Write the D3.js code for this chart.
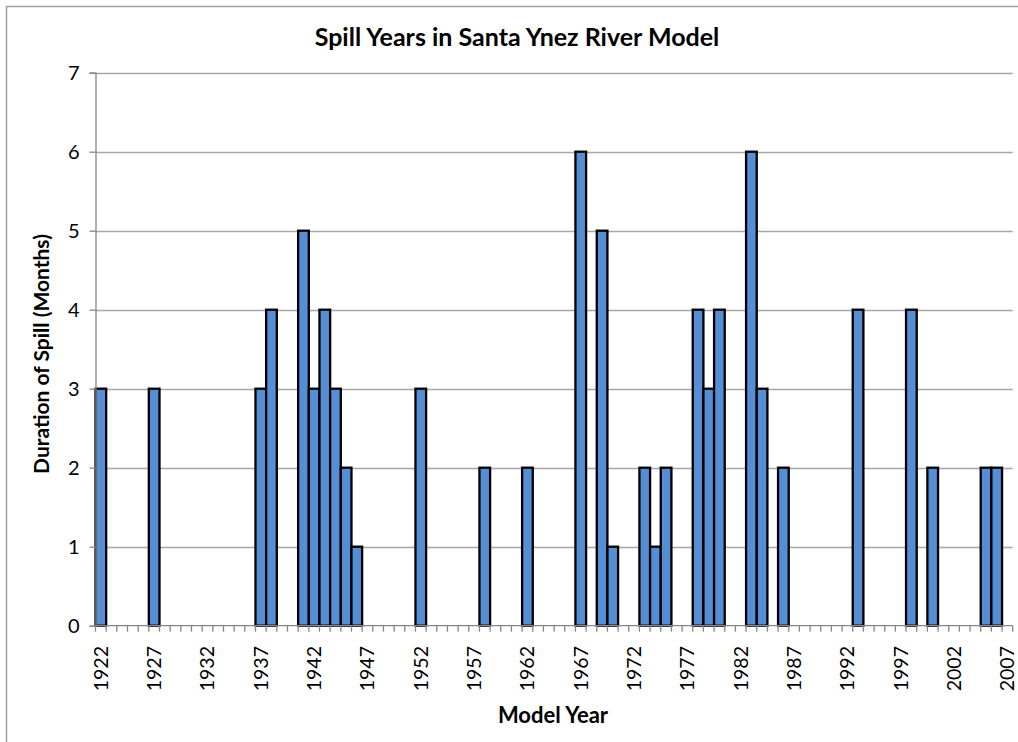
<!DOCTYPE html>
<html>
<head>
<meta charset="utf-8">
<script src="https://cdn.jsdelivr.net/npm/d3@7"></script>
<style>
  body { margin: 0; background: #fff; }
  text { font-family: Lato, "Open Sans", sans-serif; fill: #000; }
</style>
</head>
<body>
<div id="chart"></div>
<script>
// categories on the x axis, one per model year
const years = d3.range(1922, 2008);
// years that spilled and how many months
const spillYears = [1922, 1927, 1937, 1938, 1941, 1942, 1943, 1944, 1945, 1946,
  1952, 1958, 1962, 1967, 1969, 1970, 1973, 1974, 1975,
  1978, 1979, 1980, 1983, 1984, 1986, 1993, 1998, 2000, 2005, 2006];
const spillMonths = [3, 3, 3, 4, 5, 3, 4, 3, 2, 1,
  3, 2, 2, 6, 5, 1, 2, 1, 2,
  4, 3, 4, 6, 3, 2, 4, 4, 2, 2, 2];
const xTickLabels = [1922, 1927, 1932, 1937, 1942, 1947, 1952, 1957, 1962, 1967,
  1972, 1977, 1982, 1987, 1992, 1997, 2002, 2007];
const yTicks = [0, 1, 2, 3, 4, 5, 6, 7];

const data = spillYears.map((y, i) => ({ year: y, value: spillMonths[i] }));

const width = 1018, height = 742;

const svg = d3.select("#chart")
  .append("svg")
  .attr("width", width)
  .attr("height", height);

// chart area border
svg.append("rect")
  .attr("x", 6.5).attr("y", 6.5)
  .attr("width", width + 20).attr("height", height + 20)
  .attr("fill", "none")
  .attr("stroke", "#a0a0a0")
  .attr("stroke-width", 1.5);

const x = d3.scaleBand()
  .domain(years)
  .range([95.5, 1012.7])
  .padding(0);

const y = d3.scaleLinear()
  .domain([0, 7])
  .range([625.7, 72.7]);

// gridlines
svg.append("g")
  .selectAll("line")
  .data(yTicks.slice(1))
  .enter()
  .append("line")
  .attr("x1", 95.5)
  .attr("x2", 1012.7)
  .attr("y1", (d) => Math.round(y(d)) + 0.5)
  .attr("y2", (d) => Math.round(y(d)) + 0.5)
  .attr("stroke", "#a6a6a6")
  .attr("stroke-width", 1.3);

// bars
svg.append("g")
  .selectAll("rect")
  .data(data)
  .enter()
  .append("rect")
  .attr("x", (d) => x(d.year))
  .attr("y", (d) => y(d.value))
  .attr("width", x.bandwidth())
  .attr("height", (d) => y(0) - y(d.value))
  .attr("fill", "#558ed5")
  .attr("stroke", "#000")
  .attr("stroke-width", 2.3);

// y axis
const yAxis = d3.axisLeft(y)
  .tickValues(yTicks)
  .tickSize(6)
  .tickPadding(10)
  .tickFormat(d3.format("d"));

const yAxisGroup = svg.append("g")
  .attr("transform", "translate(95.5,0)")
  .call(yAxis);

yAxisGroup.select(".domain").attr("stroke", "#868686").attr("stroke-width", 1.3);
yAxisGroup.selectAll(".tick line").attr("stroke", "#868686").attr("stroke-width", 1.3);
yAxisGroup.selectAll(".tick text").style("font-size", "20px").attr("fill", "#000");

// x axis: ticks between categories
const xEdge = d3.scaleLinear()
  .domain([0, years.length])
  .range(x.range());

const xAxisGroup = svg.append("g");

xAxisGroup.append("line")
  .attr("x1", 95.5).attr("x2", 1012.7)
  .attr("y1", y(0)).attr("y2", y(0))
  .attr("stroke", "#868686")
  .attr("stroke-width", 1.3);

xAxisGroup.selectAll(".xtick")
  .data(d3.range(years.length + 1))
  .enter()
  .append("line")
  .attr("class", "xtick")
  .attr("x1", (d) => xEdge(d))
  .attr("x2", (d) => xEdge(d))
  .attr("y1", y(0))
  .attr("y2", y(0) + 6)
  .attr("stroke", "#868686")
  .attr("stroke-width", 1.3);

xAxisGroup.selectAll(".xlabel")
  .data(xTickLabels)
  .enter()
  .append("text")
  .attr("class", "xlabel")
  .attr("transform", (d) => `translate(${x(d) + x.bandwidth() / 2 + 7},646) rotate(-90)`)
  .attr("text-anchor", "end")
  .style("font-size", "19.5px")
  .text((d) => d);

// titles
svg.append("text")
  .attr("x", 517)
  .attr("y", 46)
  .attr("text-anchor", "middle")
  .style("font-size", "25px")
  .style("font-weight", "bold")
  .text("Spill Years in Santa Ynez River Model");

svg.append("text")
  .attr("transform", "translate(49,354) rotate(-90)")
  .attr("text-anchor", "middle")
  .style("font-size", "21px")
  .style("font-weight", "bold")
  .text("Duration of Spill (Months)");

svg.append("text")
  .attr("x", 553)
  .attr("y", 723)
  .attr("text-anchor", "middle")
  .style("font-size", "22px")
  .style("font-weight", "bold")
  .text("Model Year");
</script>
</body>
</html>
